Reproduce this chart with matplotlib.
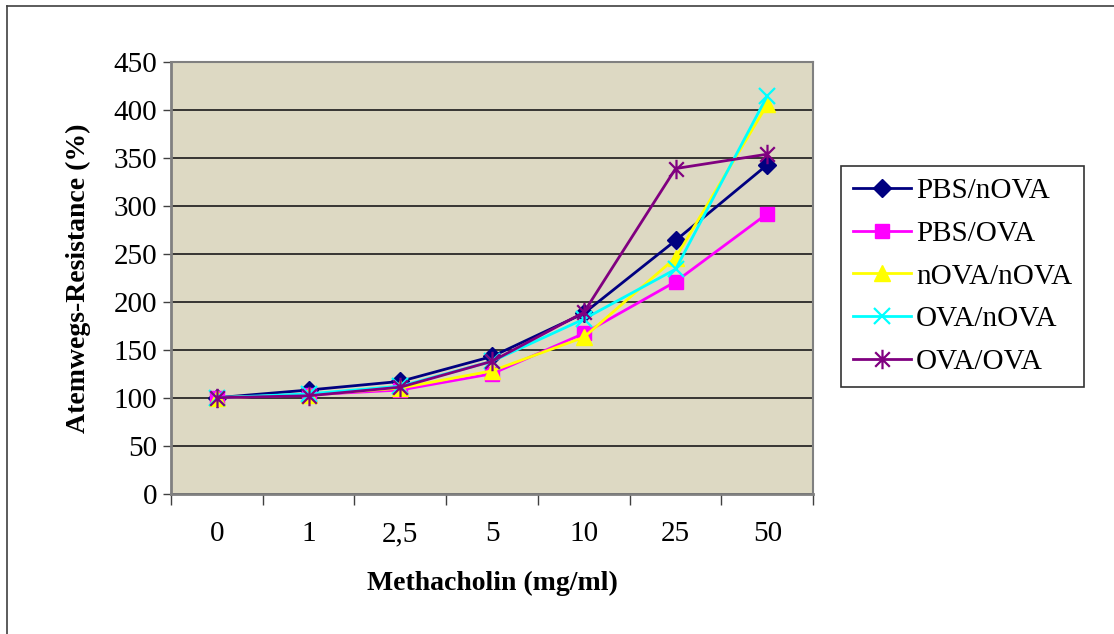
import numpy as np
import matplotlib.pyplot as plt
from matplotlib.path import Path
from matplotlib.lines import Line2D

plt.rcParams['font.family'] = ['Liberation Serif', 'DejaVu Serif']

# Methacholin-Dosen und gemessene Atemwegs-Resistance (%)
doses = ['0', '1', '2,5', '5', '10', '25', '50']
pbs_nova = [100, 108, 117, 143, 188, 264, 343]
pbs_ova = [100, 103, 108, 125, 167, 221, 292]
nova_nova = [100, 103, 110, 128, 163, 246, 406]
ova_nova = [100, 104, 112, 138, 182, 234, 415]
ova_ova = [100, 102, 111, 138, 189, 339, 354]

# Sternchen-Marker (senkrecht + zwei Diagonalen)
asterisk = Path([(0, -1), (0, 1), (-0.75, -0.75), (0.75, 0.75), (-0.75, 0.75), (0.75, -0.75)],
                [Path.MOVETO, Path.LINETO, Path.MOVETO, Path.LINETO, Path.MOVETO, Path.LINETO])

series = [
    ('PBS/nOVA', pbs_nova, '#000080', 'D', 9, 1),
    ('PBS/OVA', pbs_ova, '#FF00FF', 's', 10, 1),
    ('nOVA/nOVA', nova_nova, '#FFFF00', '^', 11, 1),
    ('OVA/nOVA', ova_nova, '#00FFFF', 'x', 11, 1.6),
    ('OVA/OVA', ova_ova, '#800080', asterisk, 14, 1.6),
]

fig = plt.figure(figsize=(11.14, 6.34), dpi=100)
ax = fig.add_axes([0.1535, 0.2215, 0.5765, 0.6805])
ax.set_facecolor('#DDD9C3')

x = np.arange(len(doses))
for label, vals, color, marker, ms, mew in series:
    ax.plot(x, vals, color=color, lw=2, marker=marker, markersize=ms,
            markeredgewidth=mew, markeredgecolor=color, markerfacecolor=color,
            label=label, zorder=3)

ax.set_xlim(-0.5, len(doses) - 0.5)
ax.set_ylim(0, 450)
ax.set_yticks(np.arange(0, 451, 50))
ax.yaxis.grid(True, color='#1a1a1a', lw=1.2)
ax.set_axisbelow(True)

ax.set_xticks(x)
ax.set_xticklabels(doses, fontsize=21)
ax.set_xticks(np.arange(-0.5, len(doses), 1), minor=True)
ax.tick_params(axis='x', which='major', length=0, pad=20)
ax.tick_params(axis='x', which='minor', length=8, width=1, color='#404040', direction='out')
ax.tick_params(axis='y', labelsize=21, length=6, width=1, color='#404040', pad=4)

for side in ['left', 'bottom']:
    ax.spines[side].set_color('#808080')
    ax.spines[side].set_linewidth(2)
for side in ['top', 'right']:
    ax.spines[side].set_color('#808080')
    ax.spines[side].set_linewidth(1.5)

ax.set_xlabel('Methacholin (mg/ml)', fontsize=20, fontweight='bold', labelpad=17)
ax.set_ylabel('Atemwegs-Resistance (%)', fontsize=20, fontweight='bold', labelpad=16)

leg = ax.legend(loc='upper left', bbox_to_anchor=(841 / 1114, 1 - 166 / 634),
                bbox_transform=fig.transFigure, fontsize=21, frameon=True,
                fancybox=False, edgecolor='black', handlelength=2.0,
                handletextpad=0.17, labelspacing=0.56, borderpad=0.4,
                borderaxespad=0)
leg.get_frame().set_linewidth(1.2)

# Rahmen um das Diagramm (oben und links)
fig.add_artist(Line2D([7 / 1114, 1], [1 - 6 / 634, 1 - 6 / 634], color='#404040', lw=1.2,
                      transform=fig.transFigure))
fig.add_artist(Line2D([7 / 1114, 7 / 1114], [0, 1 - 6 / 634], color='#404040', lw=1.2,
                      transform=fig.transFigure))

fig.savefig('out.png', dpi=100)
